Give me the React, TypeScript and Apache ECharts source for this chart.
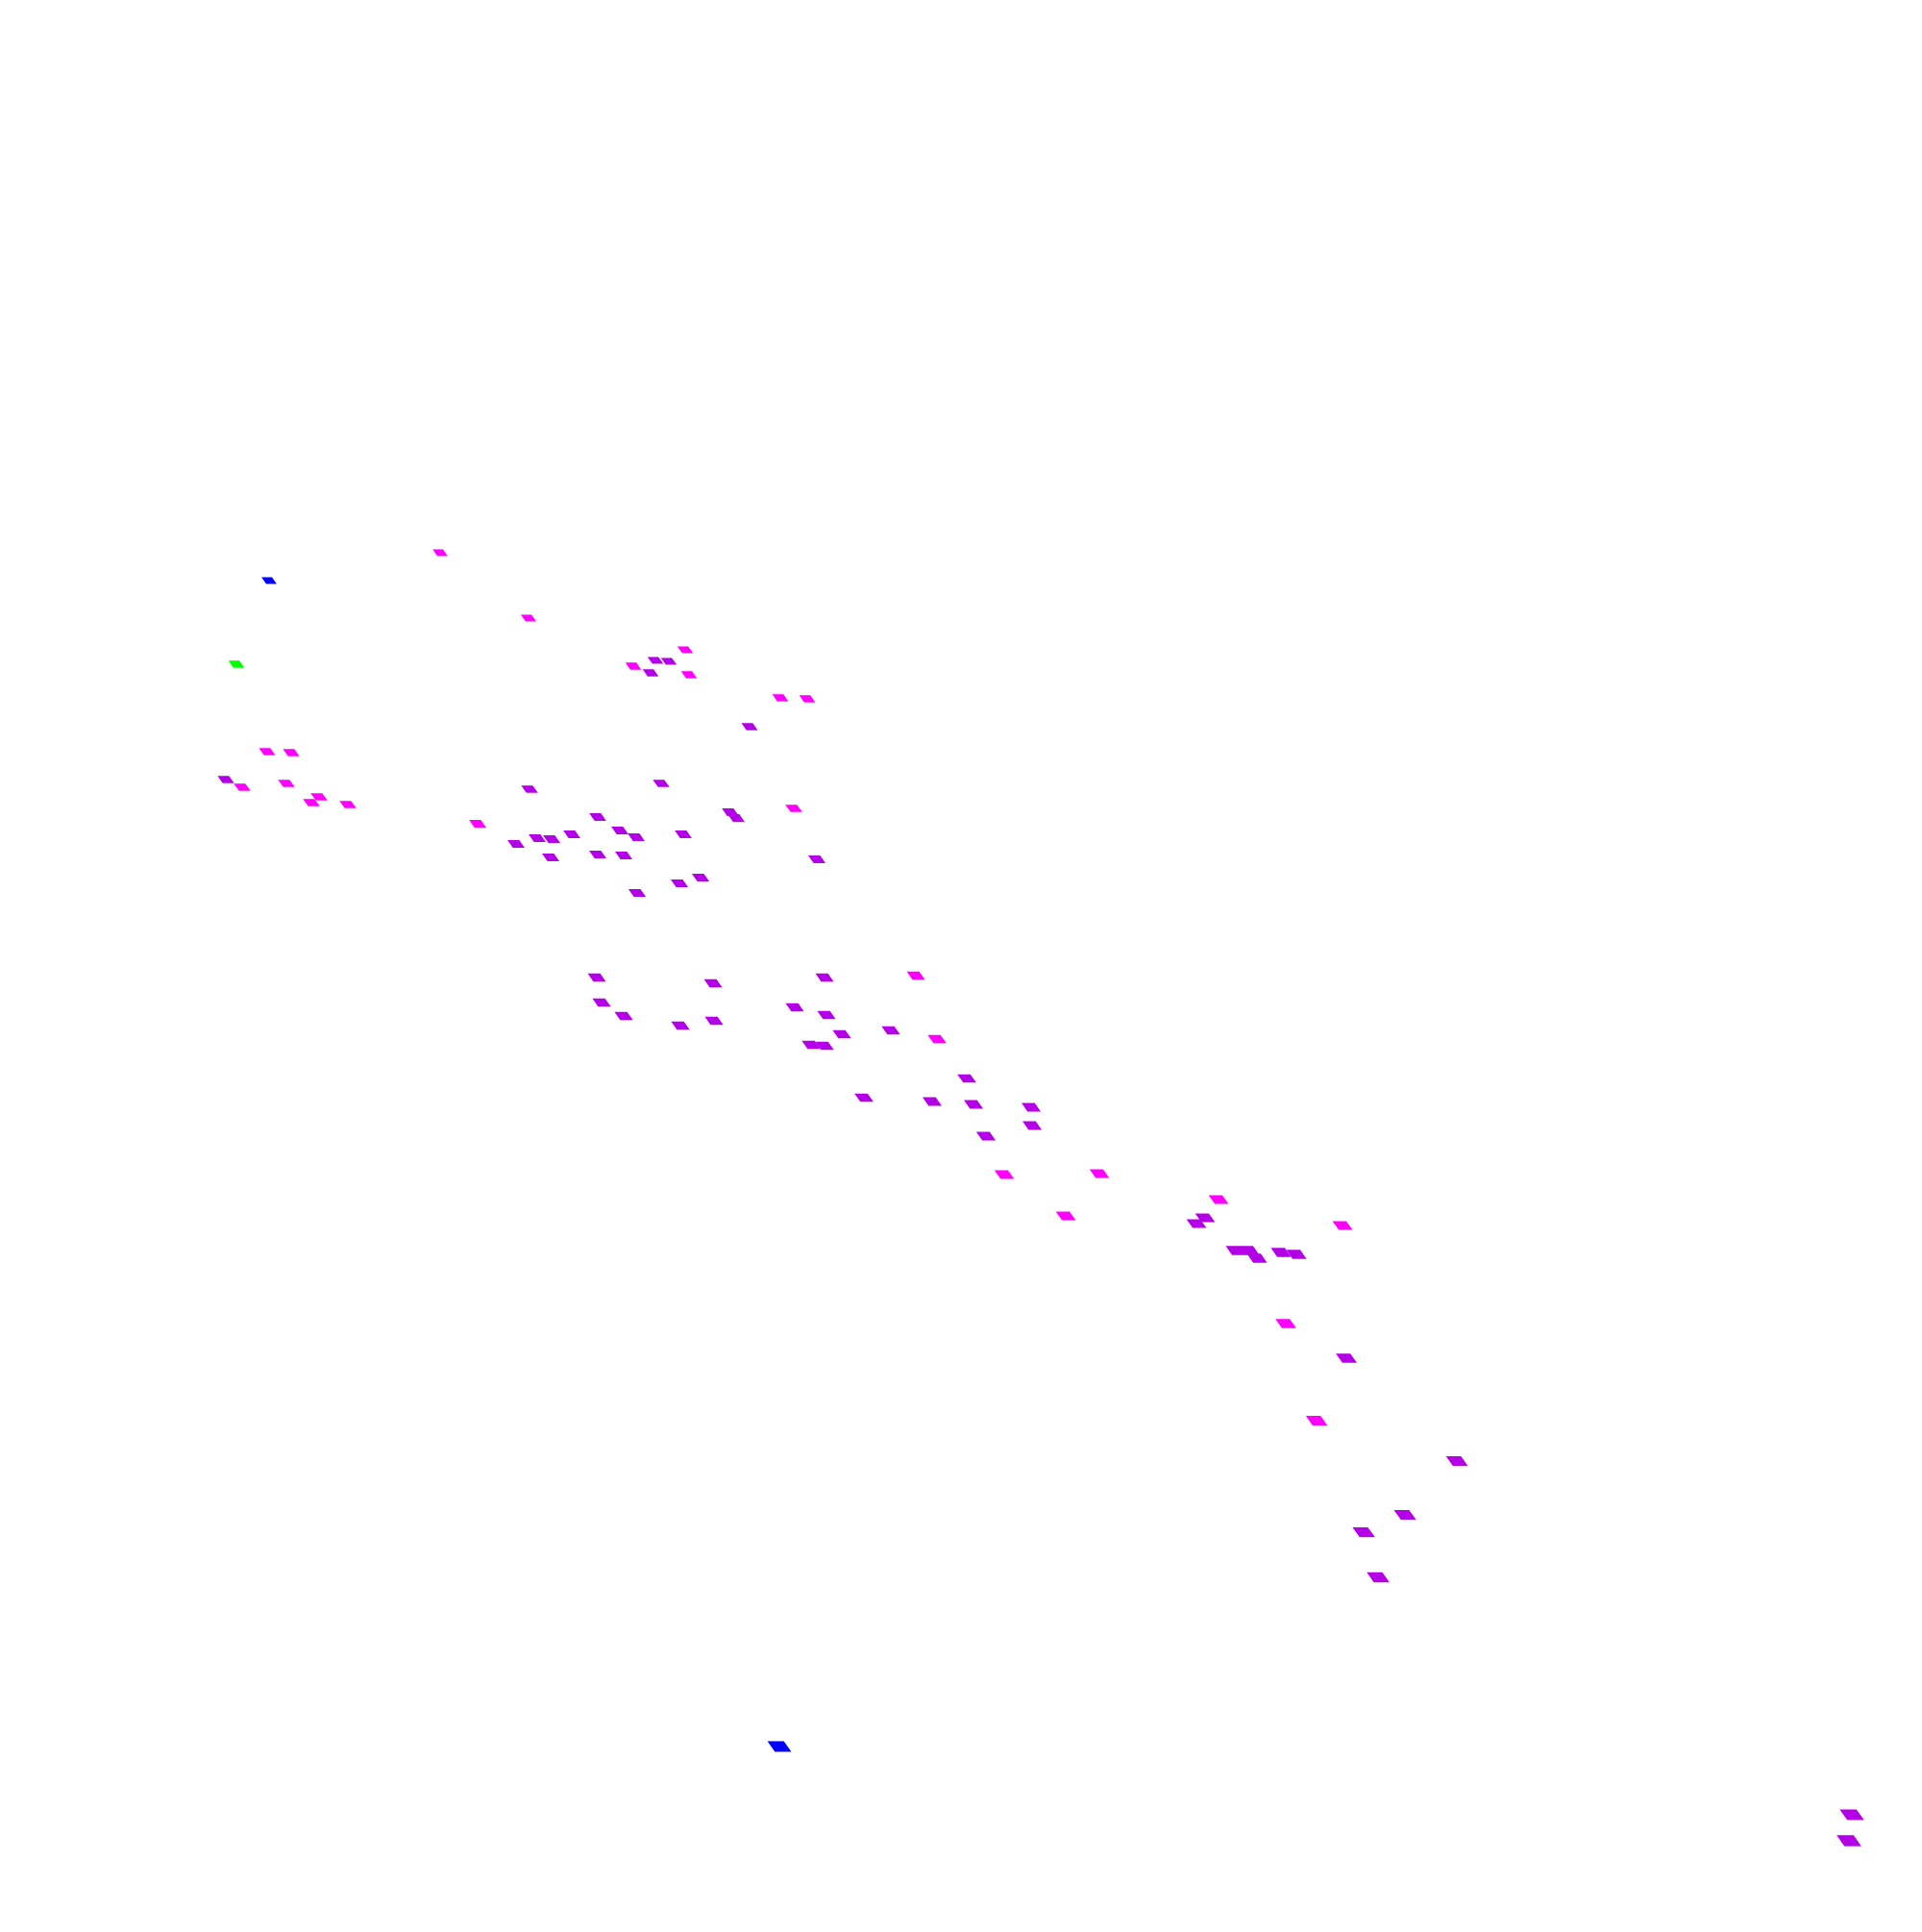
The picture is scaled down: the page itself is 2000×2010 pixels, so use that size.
import React, { useEffect, useRef } from "react";
import * as echarts from "echarts";

// Point groups (colour classes) and read-off positions
const groupNames = ["magenta", "purple", "blue", "green"];
const groupColors = ["#ff00ff", "#b300e6", "#0000ff", "#00ff00"];

const magentaX = [458, 550, 713, 659, 717, 812, 840, 278, 303, 252, 298, 332, 324, 362, 826, 497, 953, 975, 1045, 1144, 1109, 1268, 1397, 1338, 1370];
const magentaY = [575, 643, 676, 693, 702, 726, 727, 782, 783, 819, 815, 829, 835, 837, 841, 857, 1015, 1081, 1222, 1221, 1265, 1248, 1275, 1377, 1478];

const purpleX = [682, 696, 677, 780, 235, 551, 688, 760, 766, 622, 645, 662, 595, 711, 622, 649, 850, 707, 729, 663, 537, 559, 574, 573, 621, 742, 858, 626, 649, 708, 743, 827, 860, 876, 927, 844, 858, 1006, 899, 970, 1013, 1073, 1074, 1026, 1254, 1245, 1286, 1300, 1308, 1333, 1349, 1401, 1516, 1462, 1419, 1434, 1927, 1924];
const purpleY = [687, 688, 700, 756, 811, 821, 815, 845, 851, 850, 864, 871, 868, 868, 889, 890, 894, 919, 913, 929, 878, 872, 873, 892, 1017, 1023, 1017, 1043, 1057, 1067, 1062, 1048, 1056, 1076, 1072, 1087, 1088, 1122, 1142, 1146, 1149, 1152, 1171, 1182, 1267, 1273, 1301, 1301, 1309, 1303, 1305, 1413, 1520, 1576, 1594, 1641, 1888, 1915];

const blueX = [280, 811];
const blueY = [604, 1817];

const greenX = [246];
const greenY = [691];

const groupX = [magentaX, purpleX, blueX, greenX];
const groupY = [magentaY, purpleY, blueY, greenY];

const W = 2000;
const H = 2010;

const tileSymbol = "path://M0,0 L11,0 L16,7 L5,7 Z";

export default function App() {
  const ref = useRef<HTMLDivElement>(null);

  useEffect(() => {
    document.body.style.margin = "0";
    if (!ref.current) return;
    const chart = echarts.init(ref.current, undefined, { renderer: "svg" });

    const series = groupNames.map((name, gi) => ({
      name,
      type: "scatter",
      symbol: tileSymbol,
      symbolKeepAspect: false,
      symbolSize: (val: number[]) => {
        const w = 15.5 + (val[1] - 560) * 0.0075;
        return [w, w * 0.44];
      },
      itemStyle: { color: groupColors[gi], opacity: 1 },
      emphasis: { disabled: true },
      data: groupX[gi].map((x, i) => [x, groupY[gi][i]]),
    }));

    chart.setOption({
      animation: false,
      backgroundColor: "#ffffff",
      grid: { left: 0, right: 0, top: 0, bottom: 0, containLabel: false },
      xAxis: { type: "value", min: 0, max: W, show: false },
      yAxis: { type: "value", min: 0, max: H, inverse: true, show: false },
      tooltip: { show: false },
      series,
    });

    return () => chart.dispose();
  }, []);

  return <div ref={ref} style={{ width: W, height: H, background: "#fff" }} />;
}
